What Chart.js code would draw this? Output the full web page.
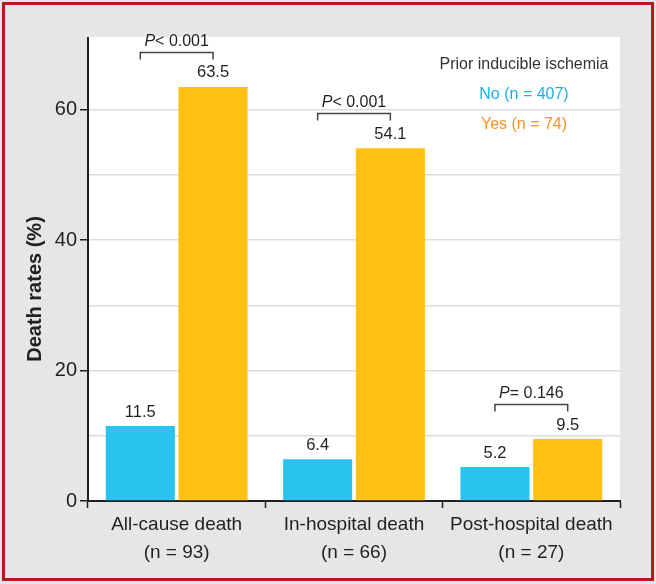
<!DOCTYPE html>
<html>
<head>
<meta charset="utf-8">
<script src="https://cdn.jsdelivr.net/npm/chart.js@4"></script>
<style>
  body { margin: 0; background: #e6e6e8; }
  #wrap { width: 656px; height: 584px; }
</style>
</head>
<body>
<div id="wrap"><canvas id="myChart" width="656" height="584"></canvas></div>
<script>
// data
var categories = [
    ['All-cause death', '(n = 93)'],
    ['In-hospital death', '(n = 66)'],
    ['Post-hospital death', '(n = 27)']
];
var noValues = [11.5, 6.4, 5.2];
var yesValues = [63.5, 54.1, 9.5];
var pTexts = ['< 0.001', '< 0.001', '= 0.146'];
var yTicks = [0, 10, 20, 30, 40, 50, 60];
var legendTitle = 'Prior inducible ischemia';
var seriesNames = ['No (n = 407)', 'Yes (n = 74)'];

var FONT = '"Liberation Sans", Arial, sans-serif';
var INK = '#231f20';
var BLUE = '#29c3ef';
var ORANGE = '#fec112';

var framePlugin = {
    id: 'frame',
    beforeDraw: function (chart) {
        var c = chart.ctx, a = chart.chartArea;
        c.save();
        c.fillStyle = '#e6e6e8';
        c.fillRect(0, 0, chart.width, chart.height);
        c.fillStyle = '#ffffff';
        c.fillRect(a.left, a.top - 1, a.right - a.left, a.bottom - a.top + 1);
        c.strokeStyle = '#bd1520';
        c.lineWidth = 3;
        c.strokeRect(3.5, 3.5, chart.width - 7, chart.height - 8);
        c.restore();
    },
    afterDraw: function (chart) {
        var c = chart.ctx, a = chart.chartArea;
        c.save();
        // y title
        c.translate(35, 289);
        c.rotate(-Math.PI / 2);
        c.font = 'bold 20px ' + FONT;
        c.fillStyle = INK;
        c.textAlign = 'center';
        c.textBaseline = 'middle';
        c.fillText('Death rates (%)', 0, 0);
        c.restore();

        // legend inside the plot
        c.save();
        var lx = a.right - 96;
        c.textAlign = 'center';
        c.textBaseline = 'middle';
        c.font = '16px ' + FONT;
        c.fillStyle = '#333';
        c.fillText(legendTitle, lx, 65);
        c.fillStyle = '#1ab0ee';
        c.fillText(seriesNames[0], lx, 95);
        c.fillStyle = '#f7941d';
        c.fillText(seriesNames[1], lx, 125);
        c.restore();
    },
    afterDatasetsDraw: function (chart) {
        var c = chart.ctx;
        var m0 = chart.getDatasetMeta(0), m1 = chart.getDatasetMeta(1);
        c.save();
        c.fillStyle = INK;
        c.textAlign = 'center';
        c.textBaseline = 'middle';
        c.font = '16.5px ' + FONT;
        [m0, m1].forEach(function (m, k) {
            var vals = k === 0 ? noValues : yesValues;
            m.data.forEach(function (bar, i) {
                c.fillText(vals[i].toFixed(1), bar.x, bar.y - 14);
            });
        });
        // significance brackets
        c.strokeStyle = '#444';
        c.lineWidth = 1.5;
        m1.data.forEach(function (bar, i) {
            var x0 = m0.data[i].x, x1 = bar.x;
            var y = Math.round(bar.y - 35) + 0.5;
            c.beginPath();
            c.moveTo(x0, y + 7);
            c.lineTo(x0, y);
            c.lineTo(x1, y);
            c.lineTo(x1, y + 7);
            c.stroke();
            var mid = (x0 + x1) / 2;
            c.font = 'italic 16px ' + FONT;
            var wp = c.measureText('P').width;
            c.font = '16px ' + FONT;
            var wr = c.measureText(pTexts[i]).width;
            var start = mid - (wp + wr) / 2;
            c.textAlign = 'left';
            c.font = 'italic 16px ' + FONT;
            c.fillText('P', start, y - 11);
            c.font = '16px ' + FONT;
            c.fillText(pTexts[i], start + wp, y - 11);
            c.textAlign = 'center';
        });
        c.restore();
    }
};

var ctx = document.getElementById('myChart');
var myChart = new Chart(ctx, {
    type: 'bar',
    data: {
        labels: categories,
        datasets: [
            { label: seriesNames[0], data: noValues, backgroundColor: BLUE },
            { label: seriesNames[1], data: yesValues, backgroundColor: ORANGE }
        ]
    },
    options: {
        responsive: false,
        animation: false,
        events: [],
        layout: { padding: { left: 0, right: 36, top: 38, bottom: 0 } },
        categoryPercentage: 0.82,
        barPercentage: 0.95,
        plugins: { legend: { display: false }, tooltip: { enabled: false } },
        scales: {
            x: {
                grid: { offset: true, drawOnChartArea: false, tickColor: INK, tickLength: 7, tickWidth: 1.5 },
                border: { color: INK, width: 2 },
                ticks: {
                    color: INK,
                    autoSkip: false,
                    maxRotation: 0,
                    padding: 3,
                    font: { family: FONT, size: 19, lineHeight: 1.47 }
                },
                afterFit: function (s) { s.height = 83; }
            },
            y: {
                min: 0,
                max: 71,
                afterBuildTicks: function (s) {
                    s.ticks = yTicks.map(function (v) { return { value: v }; });
                },
                grid: {
                    color: function (c) { return c.tick && c.tick.value === 0 ? 'rgba(0,0,0,0)' : '#dcdcdc'; },
                    tickColor: function (c) { return c.tick && c.tick.value % 20 === 0 ? INK : 'rgba(0,0,0,0)'; },
                    tickLength: 8,
                    lineWidth: 1.5,
                    tickWidth: 1.5
                },
                border: { color: INK, width: 2 },
                ticks: {
                    color: INK,
                    padding: 3,
                    font: { family: FONT, size: 20 },
                    callback: function (v) { return v % 20 === 0 ? v : ''; }
                },
                afterFit: function (s) { s.width = 88; }
            }
        }
    },
    plugins: [framePlugin]
});
</script>
</body>
</html>
